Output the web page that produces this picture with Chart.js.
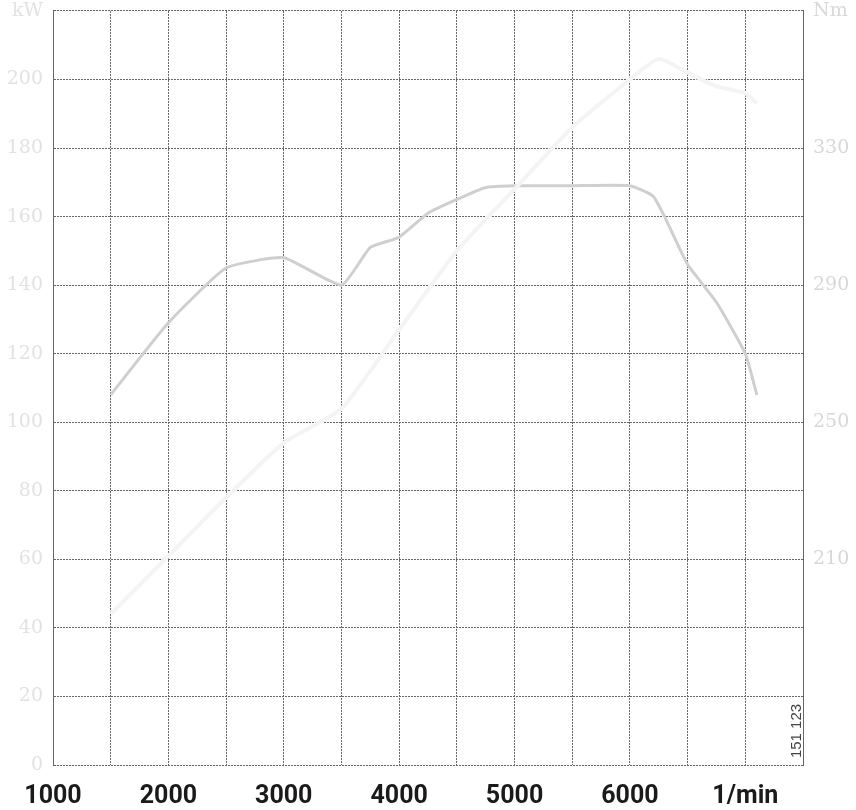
<!DOCTYPE html>
<html>
<head>
    <meta charset="UTF-8">
    <title>Leistung und Drehmoment</title>
    <script src="https://cdn.jsdelivr.net/npm/chart.js"></script>
    <style>
        body {
            margin: 0;
            padding: 0;
            background: #fff;
        }
        #wrap {
            width: 856px;
            height: 810px;
        }
    </style>
</head>
<body>
    <div id="wrap"><canvas id="graph" width="856" height="810"></canvas></div>

    <script>
        // Drehmoment (Nm) ueber Drehzahl
        const torqueRpm = [1500, 2000, 2500, 3000, 3500, 3750, 4000, 4250, 4500, 4750, 5000, 5500, 6000, 6200, 6300, 6500, 6750, 7000, 7100];
        const torqueNm  = [258, 279, 295, 298, 290, 301, 304, 311, 315, 318.5, 319, 319, 319, 316, 310, 296, 285, 270, 258];

        // Leistung (kW) ueber Drehzahl
        const powerRpm = [1500, 2000, 2500, 3000, 3500, 4000, 4500, 5000, 5500, 6000, 6250, 6500, 6750, 7000, 7100];
        const powerKw  = [44, 61, 78, 94, 104, 127, 150, 168, 186, 200, 206, 202, 198, 196, 193];

        // Achsenbeschriftungen
        const rpmLabels = {1000: '1000', 2000: '2000', 3000: '3000', 4000: '4000', 5000: '5000', 6000: '6000', 7000: '1/min'};
        const nmLabels = {210: '210', 250: '250', 290: '290', 330: '330', 370: 'Nm'};
        const kwTopLabel = 'kW';

        const gridColor = '#666';

        // Kennnummer unten rechts (gedreht)
        const idPlugin = {
            id: 'idText',
            afterDraw(chart) {
                const c = chart.ctx;
                const area = chart.chartArea;
                c.save();
                c.translate(area.right - 6, area.bottom - 34);
                c.rotate(-Math.PI / 2);
                c.font = '15px "Liberation Sans", Arial, sans-serif';
                c.fillStyle = '#444';
                c.textAlign = 'center';
                c.textBaseline = 'middle';
                c.fillText('151 123', 0, 0);
                c.restore();
            }
        };

        const ctx = document.getElementById('graph').getContext('2d');
        const chart = new Chart(ctx, {
            type: 'line',
            data: {
                datasets: [{
                    label: 'Leistung',
                    data: powerRpm.map((r, i) => ({x: r, y: powerKw[i]})),
                    yAxisID: 'y',
                    borderColor: '#f4f4f4',
                    borderWidth: 4,
                    pointRadius: 0,
                    tension: 0.2,
                    fill: false
                }, {
                    label: 'Drehmoment',
                    data: torqueRpm.map((r, i) => ({x: r, y: torqueNm[i]})),
                    yAxisID: 'yNm',
                    borderColor: '#cfcfcf',
                    borderWidth: 3,
                    pointRadius: 0,
                    tension: 0.15,
                    fill: false
                }]
            },
            options: {
                responsive: false,
                animation: false,
                layout: {
                    padding: {top: 9, left: 0, right: 0, bottom: 0}
                },
                plugins: {
                    legend: {display: false},
                    tooltip: {enabled: false}
                },
                scales: {
                    x: {
                        type: 'linear',
                        min: 1000,
                        max: 7500,
                        ticks: {
                            stepSize: 500,
                            autoSkip: false,
                            maxRotation: 0,
                            padding: 17,
                            color: '#1a1a1a',
                            font: {family: '"Liberation Sans Narrow", Roboto, sans-serif', size: 25, weight: 'bold'},
                            callback: (v) => rpmLabels[v] || ''
                        },
                        grid: {
                            color: gridColor,
                            lineWidth: 1,
                            drawTicks: false
                        },
                        border: {display: false, dash: [2, 1]},
                        afterFit: (s) => { s.height = 45; }
                    },
                    y: {
                        position: 'left',
                        min: 0,
                        max: 220,
                        ticks: {
                            stepSize: 20,
                            padding: 10,
                            color: '#e2e2e2',
                            font: {family: '"DejaVu Serif", serif', size: 19, lineHeight: 0.1},
                            callback: (v) => v === 220 ? kwTopLabel : String(v)
                        },
                        grid: {
                            color: gridColor,
                            lineWidth: 1,
                            drawTicks: false
                        },
                        border: {display: true, color: gridColor, dash: [2, 1]},
                        afterFit: (s) => { s.width = 53; }
                    },
                    yNm: {
                        position: 'right',
                        min: 150,
                        max: 370,
                        ticks: {
                            stepSize: 20,
                            padding: 10,
                            color: '#d8d8d8',
                            font: {family: '"DejaVu Serif", serif', size: 19, lineHeight: 0.1},
                            callback: (v) => nmLabels[v] || ''
                        },
                        grid: {display: false, drawTicks: false},
                        border: {display: true, color: gridColor},
                        afterFit: (s) => { s.width = 53; }
                    }
                }
            },
            plugins: [idPlugin]
        });
    </script>
</body>
</html>
